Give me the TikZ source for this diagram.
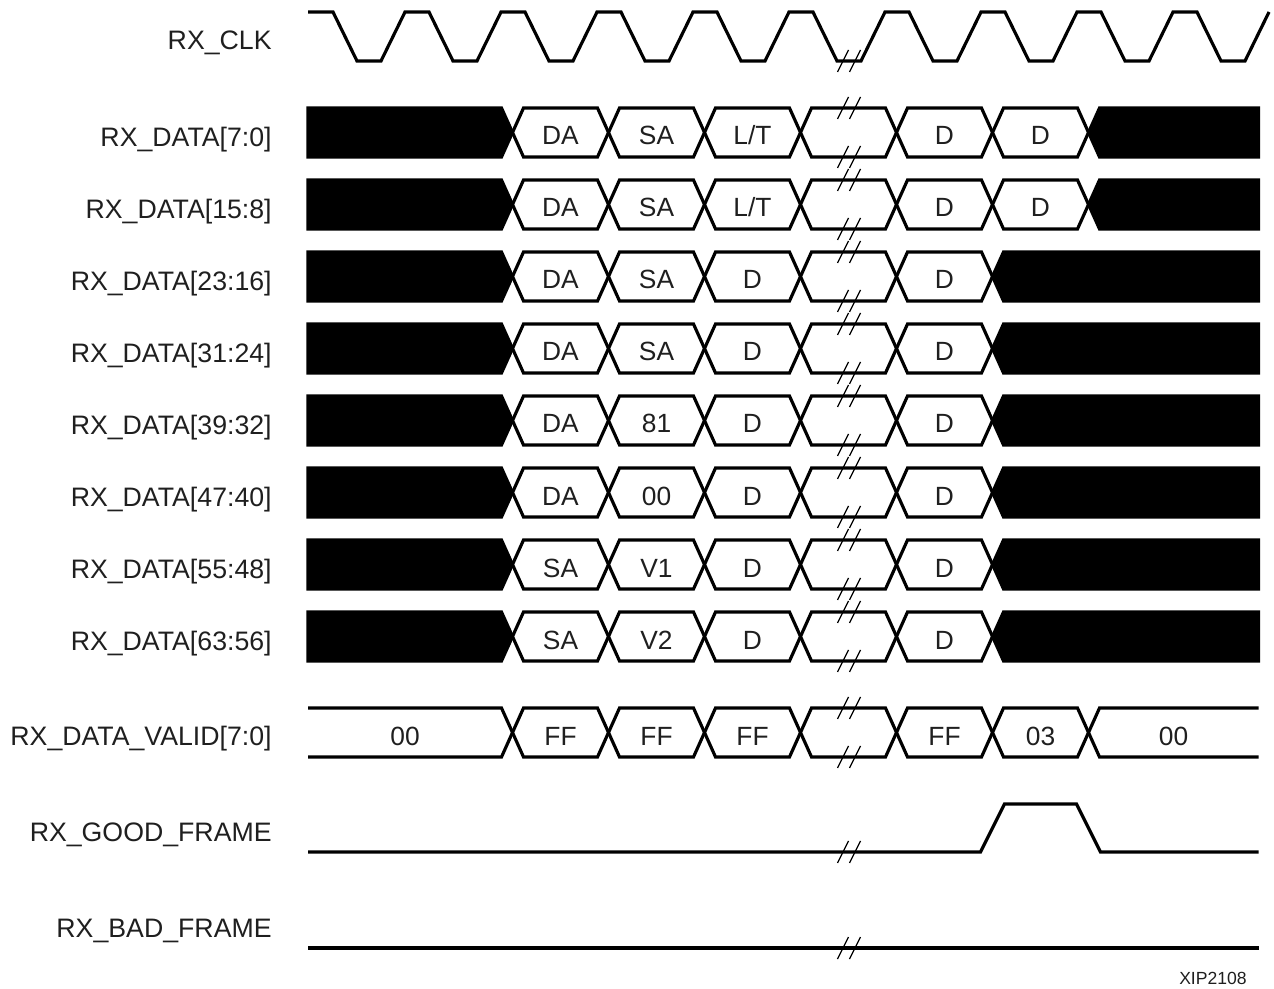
\documentclass[tikz,border=0pt]{standalone}
\usepackage{fontspec}
\setmainfont{Liberation Sans}

\begin{document}
\begin{tikzpicture}[x=0.02cm,y=-0.02cm,
  sig/.style={line width=1.8pt},
  brk/.style={line width=0.7pt},
  sname/.style={anchor=base east,inner sep=0pt,text=black!88,font=\fontsize{15.2}{18}\selectfont},
  val/.style={anchor=base,inner sep=0pt,text=black!88,font=\fontsize{15}{18}\selectfont},
]
\useasboundingbox (0,0) rectangle (1274,989);

% RX_CLK
\node[sname] (clk) at (272,50) {RX\_CLK};
\draw[sig] (308,12) -- (333,12)
  \foreach \p in {1,...,9} { -- ++(24,49) -- ++(24,0) -- ++(24,-49) -- ++(24,0) }
  -- ++(24,49) -- ++(24,0) -- ++(24,-49);

% Data lanes, one 96 wide cell per clock
\foreach \k/\bits/\fa/\fb/\fc/\xend in {0/7:0/DA/SA/{L/T}/1088.5,1/15:8/DA/SA/{L/T}/1088.5,2/23:16/DA/SA/D/992.5,3/31:24/DA/SA/D/992.5,4/39:32/DA/81/D/992.5,5/47:40/DA/00/D/992.5,6/55:48/SA/V1/D/992.5,7/63:56/SA/V2/D/992.5}{
  \pgfmathsetmacro\yc{132.5+72*\k}
  \node[sname] (lane\k) at (272,\yc+14) {RX\_DATA[\bits]};
  % idle before and after the frame
  \filldraw[sig] (308,\yc-24.5) -- (501.5,\yc-24.5) -- (512.5,\yc) -- (501.5,\yc+24.5) -- (308,\yc+24.5) -- cycle;
  \filldraw[sig] (\xend,\yc) -- (\xend+11,\yc-24.5) -- (1258.5,\yc-24.5) -- (1258.5,\yc+24.5) -- (\xend+11,\yc+24.5) -- cycle;
  % frame bytes
  \foreach \xa/\txt [count=\i] in {512.5/\fa,608.5/\fb,704.5/\fc,896.5/D}{
    \draw[sig] (\xa,\yc) -- ++(11,-24.5) -- ++(74,0) -- ++(11,24.5) -- ++(-11,24.5) -- ++(-74,0) -- cycle;
    \node[val] (v\k-\i) at (\xa+48,\yc+12.5) {\txt};
  }
  \draw[sig] (800.5,\yc) -- ++(11,-24.5) -- ++(74,0) -- ++(11,24.5) -- ++(-11,24.5) -- ++(-74,0) -- cycle;
  \ifdim\xend pt>1000pt
    \draw[sig] (992.5,\yc) -- ++(11,-24.5) -- ++(74,0) -- ++(11,24.5) -- ++(-11,24.5) -- ++(-74,0) -- cycle;
    \node[val] (v\k-5) at (1040.5,\yc+12.5) {D};
  \fi
}

% RX_DATA_VALID
\node[sname] (valid) at (272,745) {RX\_DATA\_VALID[7:0]};
\draw[sig] (308,708) -- (501.5,708) -- (512.5,732.5) -- (501.5,757) -- (308,757);
\node[val] (vv0) at (405,745) {00};
\foreach \xa/\txt [count=\i] in {512.5/FF,608.5/FF,704.5/FF,896.5/FF,992.5/03}{
  \draw[sig] (\xa,732.5) -- ++(11,-24.5) -- ++(74,0) -- ++(11,24.5) -- ++(-11,24.5) -- ++(-74,0) -- cycle;
  \node[val] (vv\i) at (\xa+48,745) {\txt};
}
\draw[sig] (800.5,732.5) -- ++(11,-24.5) -- ++(74,0) -- ++(11,24.5) -- ++(-11,24.5) -- ++(-74,0) -- cycle;
\draw[sig] (1258.5,708) -- (1099.5,708) -- (1088.5,732.5) -- (1099.5,757) -- (1258.5,757);
\node[val] (vv6) at (1173.5,745) {00};

% RX_GOOD_FRAME and RX_BAD_FRAME
\node[sname] (good) at (272,841) {RX\_GOOD\_FRAME};
\draw[sig] (308,852) -- (980.5,852) -- ++(24,-48) -- (1076.5,804) -- ++(24,48) -- (1258.5,852);
\node[sname] (bad) at (272,937) {RX\_BAD\_FRAME};
\draw[sig] (308,948) -- (1258.5,948);

% break marks
\foreach \ym in {61,108,157,180,229,252,301,324,373,396,445,468,517,540,589,612,661,708,757,852,948}
  \draw[brk] (837.5,\ym+11) -- ++(11,-22) (849.5,\ym+11) -- ++(11,-22);

\node[anchor=base east,inner sep=0pt,text=black!88,font=\fontsize{10}{12}\selectfont] (fig) at (1247,984) {XIP2108};
\end{tikzpicture}
\end{document}
